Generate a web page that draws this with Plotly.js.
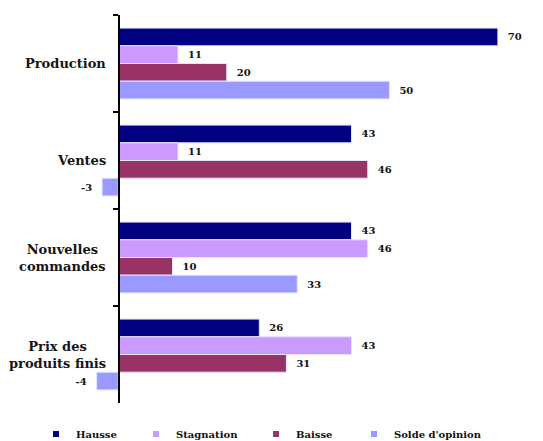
<!DOCTYPE html>
<html>
<head>
<meta charset="utf-8">
<script src="https://cdn.plot.ly/plotly-3.0.1.min.js"></script>
<style>html,body{margin:0;padding:0;background:#fff}#chart{width:543px;height:441px}</style>
</head>
<body>
<div id="chart"></div>
<script>
var categories = ["Production", "Ventes", "Nouvelles commandes", "Prix des produits finis"];
var categoryLabels = ["Production", "Ventes", "Nouvelles<br>commandes", "Prix des<br>produits finis"];
var seriesNames = ["Hausse", "Stagnation", "Baisse", "Solde d'opinion"];
var hausse = [70, 43, 43, 26];
var stagnation = [11, 11, 46, 43];
var baisse = [20, 46, 10, 31];
var solde = [50, -3, 33, -4];
var colors = ["#000080", "#CC99FF", "#993366", "#9999FF"];
var xRange = [-15, 75];
var legendX = [0.0663, 0.2505, 0.4715, 0.6519];

var seriesValues = [hausse, stagnation, baisse, solde];
var serif = "DejaVu Serif, Liberation Serif, serif";
var NB = "\u00a0\u00a0";
var legendIds = ["legend", "legend2", "legend3", "legend4"];

var traces = seriesValues.map(function (vals, i) {
  return {
    type: "bar",
    orientation: "h",
    name: seriesNames[i],
    y: categories,
    x: vals,
    marker: { color: colors[i], line: { color: "#E4E4FF", width: 1 } },
    text: vals.map(function (v) { return v < 0 ? String(v) + NB : NB + String(v); }),
    texttemplate: "%{text}",
    textposition: "outside",
    cliponaxis: false,
    textfont: { family: serif, size: 10, color: "#111", weight: "bold" },
    showlegend: false,
    hoverinfo: "x+name"
  };
});

seriesValues.forEach(function (vals, i) {
  traces.push({
    type: "scatter",
    mode: "markers",
    name: seriesNames[i],
    legend: legendIds[i],
    x: [null],
    y: [categories[0]],
    marker: { symbol: "square", size: 6, color: colors[i] },
    showlegend: true,
    hoverinfo: "skip"
  });
});

var annotations = categories.map(function (c, i) {
  return {
    xref: "x", yref: "y",
    x: 0, y: c,
    text: categoryLabels[i],
    showarrow: false,
    xanchor: "right",
    yanchor: "middle",
    align: "center",
    xshift: -10,
    font: { family: serif, size: 13, color: "#151515", weight: "bold" }
  };
});

var layout = {
  width: 543, height: 441,
  margin: { l: 37, r: 18, t: 15, b: 38 },
  paper_bgcolor: "#fff", plot_bgcolor: "#fff",
  barmode: "group",
  bargap: 0.27,
  bargroupgap: 0,
  showlegend: true,
  xaxis: {
    range: xRange,
    showgrid: false, zeroline: false, showline: false,
    showticklabels: false, ticks: ""
  },
  yaxis: {
    type: "category",
    categoryorder: "array", categoryarray: categories,
    autorange: "reversed",
    anchor: "free",
    position: -xRange[0] / (xRange[1] - xRange[0]),
    showline: true, linecolor: "#000", linewidth: 1.5,
    ticks: "outside", tickson: "boundaries", ticklen: 5, tickwidth: 1.5, tickcolor: "#000",
    showticklabels: false, showgrid: false, zeroline: false
  },
  annotations: annotations
};

legendIds.forEach(function (id, i) {
  layout[id] = {
    orientation: "h",
    xref: "container", yref: "container",
    x: legendX[i], xanchor: "left",
    y: 0.016, yanchor: "middle",
    font: { family: serif, size: 10, color: "#111", weight: "bold" },
    bgcolor: "rgba(0,0,0,0)"
  };
});

Plotly.newPlot("chart", traces, layout, { displayModeBar: false, staticPlot: true });
</script>
</body>
</html>
